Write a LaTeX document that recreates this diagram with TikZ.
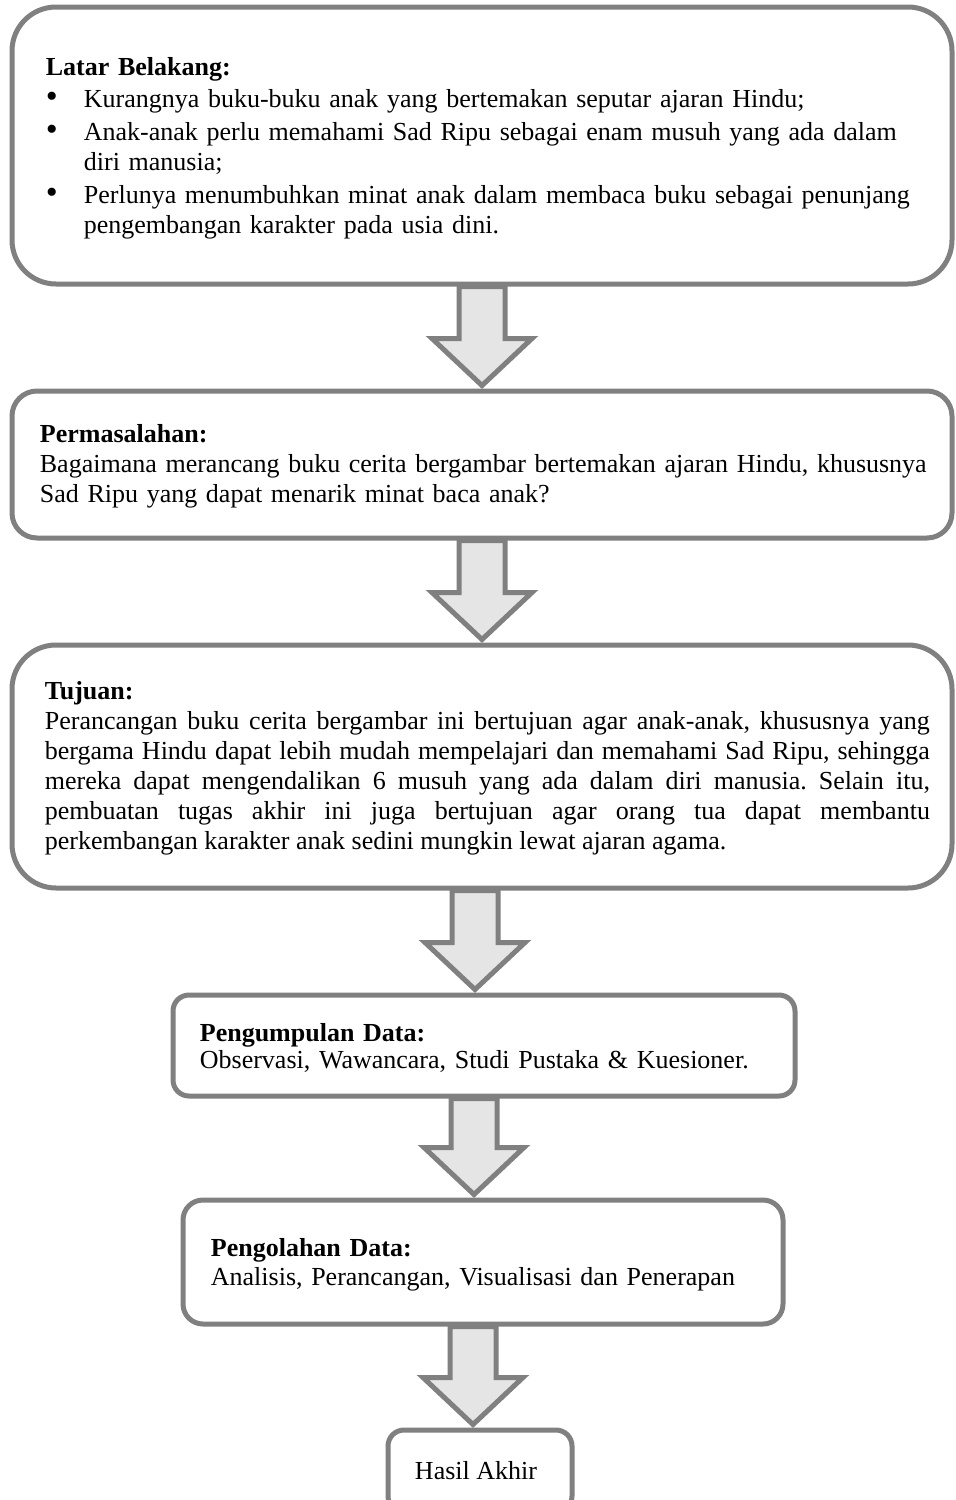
\documentclass[tikz,border=0pt]{standalone}
\usepackage{fontspec}
\setmainfont{Liberation Serif}
\usetikzlibrary{calc}
\definecolor{framegray}{gray}{0.5}
\definecolor{arrowfill}{gray}{0.9}
\tikzset{
  framebox/.style={rectangle, draw=framegray, line width=2.5pt, rounded corners=#1, inner sep=0pt},
  framebox/.default=10pt,
  boxtext/.style={inner sep=0pt, anchor=west, font=\fontsize{13}{15}\selectfont\frenchspacing},
  blockarrow/.style={draw=framegray, fill=arrowfill, line width=2.5pt, line join=miter}
}
\newenvironment{dotlist}{\begin{list}{\fontsize{17}{15}\selectfont\textbullet}{\setlength{\leftmargin}{19pt}%
  \setlength{\labelwidth}{6pt}\setlength{\labelsep}{13pt}\setlength{\itemsep}{1.5pt}%
  \setlength{\parsep}{0pt}\setlength{\topsep}{1pt}\setlength{\partopsep}{0pt}}}{\end{list}}
% block arrow between two frames: [xshift]{from}{to}
\newcommand{\flowarrow}[3][0pt]{%
  \draw[blockarrow] let \p1=([xshift=#1]#2.south), \p2=(#3.north) in
    (\x1-11.5pt,\y1) -- (\x1-11.5pt,\y2+25pt) -- (\x1-25pt,\y2+25pt) -- (\x1,\y2+1.5pt)
    -- (\x1+25pt,\y2+25pt) -- (\x1+11.5pt,\y2+25pt) -- (\x1+11.5pt,\y1) -- cycle;}
\begin{document}
\begin{tikzpicture}[x=0.5pt, y=-0.5pt]
  \useasboundingbox (0,0) rectangle (955,1500);
  % frames
  \node[framebox=22pt, minimum width=470pt, minimum height=138.5pt] (latar) at (482,145.5) {};
  \node[framebox=12.5pt, minimum width=470pt, minimum height=73.5pt] (masalah) at (482,464.5) {};
  \node[framebox=22pt, minimum width=470pt, minimum height=121.5pt] (tujuan) at (482,766.5) {};
  \node[framebox=8pt, minimum width=311pt, minimum height=50.5pt] (kumpul) at (484,1045.5) {};
  \node[framebox=10pt, minimum width=300pt, minimum height=62pt] (olah) at (483,1262) {};
  \node[framebox=8pt, minimum width=92pt, minimum height=41pt] (hasil) at (480,1471) {};
  % texts
  \node[boxtext, text width=440pt, align=left] (latar-t) at ([xshift=18pt,yshift=-1.5pt]latar.west)
    {\textbf{Latar Belakang:}
     \begin{dotlist}
     \item Kurangnya buku-buku anak yang bertemakan seputar ajaran Hindu;
     \item Anak-anak perlu memahami Sad Ripu sebagai enam musuh yang ada dalam\\ diri manusia;
     \item Perlunya menumbuhkan minat anak dalam membaca buku sebagai penunjang\\ pengembangan karakter pada usia dini.
     \end{dotlist}};
  \node[boxtext, text width=455pt, align=left] (masalah-t) at ([xshift=15pt,yshift=-1pt]masalah.west)
    {\textbf{Permasalahan:}\\
     Bagaimana merancang buku cerita bergambar bertemakan ajaran Hindu, khususnya\\
     Sad Ripu yang dapat menarik minat baca anak?};
  \node[boxtext, text width=442.5pt, align=justify] (tujuan-t) at ([xshift=17.5pt,yshift=-1pt]tujuan.west)
    {\textbf{Tujuan:}\par
     Perancangan buku cerita bergambar ini bertujuan agar anak-anak, khususnya yang\linebreak
     bergama Hindu dapat lebih mudah mempelajari dan memahami Sad Ripu, sehingga\linebreak
     mereka dapat mengendalikan 6 musuh yang ada dalam diri manusia. Selain itu,\linebreak
     pembuatan tugas akhir ini juga bertujuan agar orang tua dapat membantu\linebreak
     perkembangan karakter anak sedini mungkin lewat ajaran agama.};
  \node[boxtext, text width=300pt, align=left, font=\fontsize{13}{13.5}\selectfont] (kumpul-t) at ([xshift=14.5pt,yshift=-1pt]kumpul.west)
    {\textbf{Pengumpulan Data:}\\
     Observasi, Wawancara, Studi Pustaka \& Kuesioner.};
  \node[boxtext, text width=285pt, align=left, font=\fontsize{13}{14.5}\selectfont] (olah-t) at ([xshift=15pt,yshift=-1.5pt]olah.west)
    {\textbf{Pengolahan Data:}\\
     Analisis, Perancangan, Visualisasi dan Penerapan};
  \node[boxtext, anchor=center] (hasil-t) at ([xshift=-2pt]hasil.center) {Hasil Akhir};
  % block arrows
  \flowarrow{latar}{masalah}
  \flowarrow{masalah}{tujuan}
  \flowarrow[-3.5pt]{tujuan}{kumpul}
  \flowarrow[-5pt]{kumpul}{olah}
  \flowarrow[-5pt]{olah}{hasil}
\end{tikzpicture}
\end{document}
